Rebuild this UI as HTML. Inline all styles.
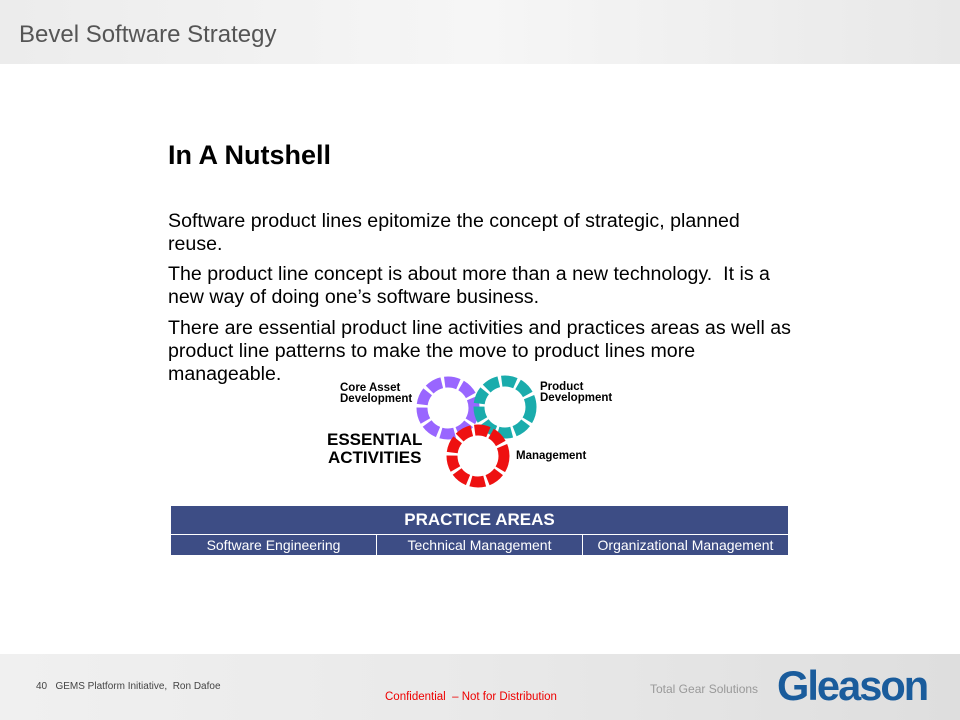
<!DOCTYPE html>
<html><head><meta charset="utf-8"><style>
body{margin:0;width:960px;height:720px;position:relative;background:#fff;font-family:"Liberation Sans",sans-serif;overflow:hidden}
.hdr{position:absolute;left:0;top:0;width:960px;height:64px;background:linear-gradient(90deg,#ececec,#f6f6f6 50%,#e8e8e8)}
.hdr span{position:absolute;left:19px;top:21px;font-size:24px;color:#555}
.ftr{position:absolute;left:0;top:654px;width:960px;height:66px;background:linear-gradient(90deg,#f0f0f0,#e9e9e9 50%,#dedede)}
.txt{position:absolute;left:168px;font-size:19.6px;color:#000;line-height:23px;width:630px}
.lbl{position:absolute;font-size:11.5px;font-weight:bold;line-height:11px}
table{position:absolute;left:170px;top:505px;width:619px;border-collapse:collapse;color:#fff;background:#3d4d85;table-layout:fixed}
td{border:1px solid #fff;text-align:center;font-size:14px;height:20px;padding:0}
</style></head><body>
<div class="hdr"><span>Bevel Software Strategy</span></div>
<div style="position:absolute;left:168px;top:140px;font-size:27px;font-weight:bold">In A Nutshell</div>
<div class="txt" style="top:210px">Software product lines epitomize the concept of strategic, planned reuse.</div>
<div class="txt" style="top:263px">The product line concept is about more than a new technology.&nbsp; It is a new way of doing one’s software business.</div>
<div class="txt" style="top:317px">There are essential product line activities and practices areas as well as product line patterns to make the move to product lines more manageable.</div>
<svg style="position:absolute;left:0;top:0" width="960" height="720">
<circle cx="448" cy="408" r="26" fill="none" stroke="#9966ff" stroke-width="11" stroke-dasharray="14 3"/>
<circle cx="505" cy="407" r="26" fill="none" stroke="#1aacac" stroke-width="11" stroke-dasharray="14 3"/>
<circle cx="478" cy="456" r="26" fill="none" stroke="#ee1111" stroke-width="11" stroke-dasharray="14 3"/>
</svg>
<div class="lbl" style="left:340px;top:383px">Core Asset<br>Development</div>
<div class="lbl" style="left:540px;top:382px">Product<br>Development</div>
<div class="lbl" style="left:516px;top:451px">Management</div>
<div style="position:absolute;left:327px;top:431px;font-size:17px;font-weight:bold;line-height:18px;text-align:center">ESSENTIAL<br>ACTIVITIES</div>
<table>
<tr><td colspan="3" style="font-size:17px;font-weight:bold;height:28px">PRACTICE AREAS</td></tr>
<tr><td>Software Engineering</td><td>Technical Management</td><td>Organizational Management</td></tr>
</table>
<div class="ftr"></div>
<div style="position:absolute;left:36px;top:681px;font-size:10px;color:#444">40&nbsp;&nbsp; GEMS Platform Initiative,&nbsp; Ron Dafoe</div>
<div style="position:absolute;left:385px;top:691px;font-size:11.5px;color:#e00">Confidential &nbsp;– Not for Distribution</div>
<div style="position:absolute;left:650px;top:682px;font-size:12px;color:#999">Total Gear Solutions</div>
<div style="position:absolute;left:777px;top:662px;font-size:42px;font-weight:bold;color:#1a5c9c;letter-spacing:-2px;transform:scaleX(0.99);transform-origin:left">Gleason</div>
</body></html>
